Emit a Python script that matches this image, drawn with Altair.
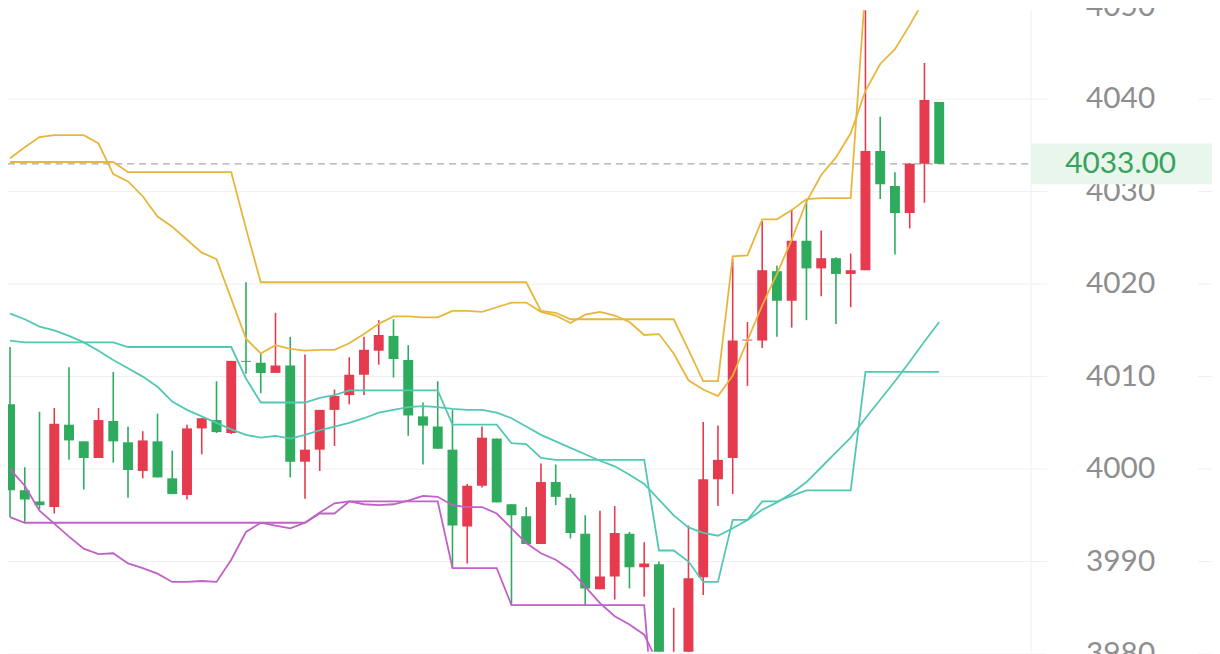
import altair as alt
import pandas as pd

# ---------------- data ----------------
candle_index = list(range(64))

opens = [4007.0, 3997.7, 3996.5, 3995.9, 4004.8, 4003.0, 4001.2, 4005.2, 4002.9, 3999.8,
         4003.0, 3999.0, 3997.2, 4004.4, 4005.3, 4003.9, 4011.7, 4011.5, 4010.4, 4011.2,
         4000.8, 4002.1, 4006.4, 4008.0, 4010.2, 4012.8, 4014.4, 4011.8, 4005.7, 4004.6,
         4002.1, 3993.8, 3998.2, 4003.3, 3996.2, 3994.9, 3991.9, 3998.6, 3996.9, 3993.0,
         3987.0, 3988.4, 3993.0, 3989.4, 3989.7, 3970.0, 3976.0, 3988.3, 3998.9, 4001.2,
         4013.9, 4013.9, 4021.4, 4018.2, 4024.7, 4021.7, 4022.8, 4021.1, 4021.5, 4034.4,
         4030.6, 4027.7, 4033.0, 4039.7]

highs = [4013.2, 4000.2, 4006.2, 4006.6, 4011.0, 4003.0, 4006.6, 4010.5, 4004.6, 4004.1,
         4006.0, 4002.0, 4004.8, 4005.5, 4009.5, 4011.7, 4020.2, 4012.5, 4016.9, 4014.3,
         4012.4, 4006.4, 4008.6, 4012.1, 4014.3, 4016.1, 4016.2, 4013.4, 4007.2, 4009.5,
         4006.4, 3998.4, 4004.6, 4003.3, 3996.2, 3995.9, 4000.6, 4000.5, 3997.3, 3995.0,
         3995.5, 3996.0, 3993.2, 3992.1, 3990.0, 3985.0, 3993.9, 4005.1, 4004.7, 4022.7,
         4015.9, 4026.8, 4022.0, 4028.1, 4029.2, 4025.8, 4022.9, 4023.3, 4052.2, 4038.1,
         4032.1, 4033.1, 4043.9, 4039.7]

lows = [3994.8, 3994.3, 3995.7, 3995.2, 4001.0, 3997.8, 4001.2, 4000.7, 3996.9, 3999.0,
        3999.1, 3997.3, 3996.7, 4001.6, 4003.9, 4003.8, 4010.3, 4008.2, 4010.4, 3999.1,
        3996.8, 3999.8, 4002.5, 4007.0, 4008.0, 4011.3, 4009.9, 4003.6, 4000.5, 4002.2,
        3989.3, 3989.8, 3998.0, 3996.4, 3985.3, 3991.9, 3991.9, 3996.1, 3992.5, 3985.3,
        3987.0, 3985.9, 3987.1, 3986.2, 3966.2, 3967.0, 3972.0, 3986.4, 3996.0, 3997.3,
        4009.0, 4013.1, 4014.3, 4015.3, 4016.1, 4018.7, 4015.7, 4017.5, 4021.5, 4029.2,
        4023.2, 4026.0, 4028.8, 4033.0]

closes = [3997.7, 3996.7, 3996.1, 4004.9, 4003.1, 4001.2, 4005.3, 4003.0, 3999.9, 4003.1,
          3999.1, 3997.3, 4004.4, 4005.5, 4004.0, 4011.7, 4011.6, 4010.4, 4011.2, 4000.8,
          4002.1, 4006.4, 4007.9, 4010.2, 4012.9, 4014.5, 4011.9, 4005.8, 4004.7, 4002.2,
          3993.9, 3998.2, 4003.4, 3996.4, 3995.0, 3991.9, 3998.6, 3997.0, 3993.1, 3987.1,
          3988.4, 3993.1, 3989.4, 3989.8, 3970.0, 3977.0, 3988.2, 3998.9, 4001.0, 4013.9,
          4014.0, 4021.5, 4018.2, 4024.7, 4021.7, 4022.8, 4021.1, 4021.5, 4034.4, 4030.8,
          4027.7, 4033.0, 4039.9, 4033.0]

# Bollinger bands (smooth lines)
boll_up = [4033.6, 4034.8, 4035.9, 4036.1, 4036.1, 4036.1, 4035.2, 4031.9, 4031.1, 4029.5,
           4027.3, 4026.2, 4024.8, 4023.4, 4022.7, 4018.4, 4014.1, 4012.5, 4013.4, 4013.0,
           4012.8, 4012.9, 4012.9, 4013.6, 4014.6, 4015.7, 4016.5, 4016.5, 4016.4, 4016.4,
           4017.1, 4017.1, 4017.0, 4017.5, 4018.0, 4018.0, 4017.0, 4016.6, 4015.8, 4016.7,
           4017.0, 4016.6, 4015.9, 4014.5, 4014.6, 4012.5, 4009.6, 4008.6, 4007.9, 4010.1,
           4013.9, 4017.7, 4021.1, 4024.8, 4028.9, 4031.8, 4033.7, 4036.3, 4040.9, 4043.8,
           4045.4, 4048.0, 4050.8, 4053.2]

boll_mid = [4016.8, 4016.2, 4015.4, 4015.0, 4014.4, 4013.7, 4012.8, 4011.8, 4010.9, 4010.0,
            4008.9, 4007.3, 4006.4, 4005.7, 4005.0, 4004.3, 4003.7, 4003.4, 4003.6, 4003.3,
            4003.7, 4004.2, 4004.6, 4005.0, 4005.5, 4006.1, 4006.4, 4006.7, 4006.8, 4006.7,
            4006.5, 4006.4, 4006.4, 4006.1, 4005.5, 4004.6, 4003.7, 4003.0, 4002.3, 4001.6,
            4000.9, 4000.3, 3999.4, 3998.4, 3996.7, 3995.0, 3993.7, 3993.1, 3992.8, 3993.6,
            3994.5, 3995.6, 3996.4, 3997.4, 3998.6, 4000.2, 4001.8, 4003.4, 4005.5, 4007.5,
            4009.5, 4011.6, 4013.8, 4015.9]

boll_low = [4000.0, 3998.2, 3995.5, 3994.1, 3992.7, 3991.4, 3990.8, 3990.9, 3989.8, 3989.3,
            3988.7, 3987.8, 3987.8, 3987.9, 3987.8, 3990.2, 3993.2, 3994.2, 3993.9, 3993.6,
            3994.2, 3995.3, 3996.3, 3996.5, 3996.2, 3996.1, 3996.2, 3996.6, 3997.1, 3997.0,
            3996.1, 3995.9, 3995.9, 3995.2, 3993.6, 3992.0, 3990.9, 3990.2, 3989.1, 3987.3,
            3985.5, 3984.1, 3983.2, 3982.1, 3978.8]

# Channel (step-like lines)
don_up = [4033.2, 4033.2, 4033.2, 4033.2, 4033.2, 4033.2, 4033.2, 4033.2, 4032.1, 4032.1,
          4032.1, 4032.1, 4032.1, 4032.1, 4032.1, 4032.1, 4026.0, 4020.2, 4020.2, 4020.2,
          4020.2, 4020.2, 4020.2, 4020.2, 4020.2, 4020.2, 4020.2, 4020.2, 4020.2, 4020.2,
          4020.2, 4020.2, 4020.2, 4020.2, 4020.2, 4020.2, 4017.1, 4016.9, 4016.2, 4016.2,
          4016.2, 4016.2, 4016.2, 4016.2, 4016.2, 4016.2, 4012.9, 4009.5, 4009.5, 4023.0,
          4023.1, 4027.0, 4027.0, 4028.0, 4029.2, 4029.3, 4029.3, 4029.3, 4052.2, 4052.2,
          4052.2, 4052.2, 4052.2, 4052.2]

don_mid = [4013.9, 4013.7, 4013.7, 4013.7, 4013.7, 4013.7, 4013.7, 4013.7, 4013.2, 4013.2,
           4013.2, 4013.2, 4013.2, 4013.2, 4013.2, 4013.2, 4009.8, 4007.2, 4007.2, 4007.2,
           4007.2, 4007.7, 4008.0, 4008.5, 4008.5, 4008.5, 4008.5, 4008.5, 4008.5, 4008.5,
           4004.8, 4004.8, 4004.8, 4004.8, 4002.8, 4002.7, 4001.2, 4001.0, 4001.0, 4001.0,
           4001.0, 4001.0, 4001.0, 4001.0, 3991.2, 3991.2, 3990.0, 3987.8, 3987.8, 3994.5,
           3994.5, 3996.5, 3996.5, 3997.1, 3997.7, 3997.7, 3997.7, 3997.7, 4010.5, 4010.5,
           4010.5, 4010.5, 4010.5, 4010.5]

don_low = [3994.8, 3994.2, 3994.2, 3994.2, 3994.2, 3994.2, 3994.2, 3994.2, 3994.2, 3994.2,
           3994.2, 3994.2, 3994.2, 3994.2, 3994.2, 3994.2, 3994.2, 3994.2, 3994.2, 3994.2,
           3994.2, 3995.2, 3995.2, 3996.5, 3996.5, 3996.5, 3996.5, 3996.5, 3996.5, 3996.5,
           3989.3, 3989.3, 3989.3, 3989.3, 3985.3, 3985.3, 3985.3, 3985.3, 3985.3, 3985.3,
           3985.3, 3985.3, 3985.3, 3985.3, 3966.2]

tick_values = [3980, 3990, 4000, 4010, 4020, 4030, 4040, 4050]
tick_labels = ["3980", "3990", "4000", "4010", "4020", "4030", "4040", "4050"]
last_price = 4033.00
last_price_label = "4033.00"

# ---------------- styling ----------------
RED = "#e63b4e"
GREEN = "#2eab5d"
YELLOW = "#e8b63c"
TEAL = "#52c8b4"
PURPLE = "#c160c8"
W, H = 1212, 646

candles = pd.DataFrame({"i": candle_index, "open": opens, "high": highs,
                        "low": lows, "close": closes})
candles["dir"] = ["up" if c >= o else "down" for o, c in zip(opens, closes)]

series = [("boll_up", boll_up), ("don_up", don_up), ("boll_mid", boll_mid),
          ("don_mid", don_mid), ("boll_low", boll_low), ("don_low", don_low)]
lines = pd.concat([pd.DataFrame({"i": candle_index[:len(v)], "v": v, "s": name})
                   for name, v in series], ignore_index=True)

ticks = pd.DataFrame({"t": tick_values, "label": tick_labels})
price = pd.DataFrame({"p": [last_price], "label": [last_price_label]})

XS = alt.Scale(domain=[0.2004, 81.16], nice=False, zero=False)
YS = alt.Scale(domain=[3980.24, 4049.62], nice=False, zero=False)

grid1 = alt.Chart(ticks).mark_rule(color="#efefef", strokeWidth=1).encode(
    y=alt.Y("t:Q", scale=YS, axis=None), x=alt.value(0), x2=alt.value(1046))
grid2 = alt.Chart(ticks).mark_rule(color="#efefef", strokeWidth=1).encode(
    y=alt.Y("t:Q", scale=YS, axis=None), x=alt.value(1198), x2=alt.value(W))
sep = alt.Chart(price).mark_rule(color="#efefef", strokeWidth=1).encode(
    x=alt.value(1030), y=alt.value(0), y2=alt.value(H))
dash = alt.Chart(price).mark_rule(color="#a9a9a9", strokeWidth=1.3,
                                  strokeDash=[7, 5]).encode(
    y=alt.Y("p:Q", scale=YS, axis=None), x=alt.value(0), x2=alt.value(1030))

ccolor = alt.Color("dir:N", scale=alt.Scale(domain=["up", "down"], range=[RED, GREEN]),
                   legend=None)
wicks = alt.Chart(candles).mark_rule(strokeWidth=1.6, clip=True).encode(
    x=alt.X("i:Q", scale=XS, axis=None),
    y=alt.Y("low:Q", scale=YS, axis=None), y2="high:Q", color=ccolor)
bodies = alt.Chart(candles).mark_bar(size=10, clip=True).encode(
    x=alt.X("i:Q", scale=XS, axis=None),
    y=alt.Y("open:Q", scale=YS, axis=None), y2="close:Q", color=ccolor)
candle_layer = alt.layer(wicks, bodies)

lcolor = alt.Color("s:N", scale=alt.Scale(
    domain=["boll_up", "don_up", "boll_mid", "don_mid", "boll_low", "don_low"],
    range=[YELLOW, YELLOW, TEAL, TEAL, PURPLE, PURPLE]), legend=None)
line_layer = alt.Chart(lines).mark_line(strokeWidth=1.8, clip=True).encode(
    x=alt.X("i:Q", scale=XS, axis=None),
    y=alt.Y("v:Q", scale=YS, axis=None),
    color=lcolor, detail="s:N", order="i:Q")

labels = alt.Chart(ticks).mark_text(font="Lato", fontSize=30, fontWeight=400,
                                    color="#8e8e8e",
                                    align="center", baseline="middle").encode(
    y=alt.Y("t:Q", scale=YS, axis=None), x=alt.value(1120), text="label:N")

pbox = alt.Chart(price).transform_calculate(
    top="datum.p + 2.2", bot="datum.p - 2.2").mark_rect(color="#e8f6ec").encode(
    y=alt.Y("top:Q", scale=YS, axis=None), y2="bot:Q",
    x=alt.value(1030), x2=alt.value(W))
ptext = alt.Chart(price).mark_text(font="Lato", fontSize=30, fontWeight=400,
                                   color="#35a35c",
                                   align="center", baseline="middle").encode(
    y=alt.Y("p:Q", scale=YS, axis=None), x=alt.value(1120), text="label:N")

chart = alt.layer(grid1, grid2, sep, dash, candle_layer, line_layer,
                  labels, pbox, ptext).resolve_scale(color="independent").properties(
    width=W, height=H, padding=0,
    autosize=alt.AutoSizeParams(type="none"),
    background="white",
).configure_view(stroke=None)

chart.save("out.html", embed_options={"renderer": "svg", "actions": False})
